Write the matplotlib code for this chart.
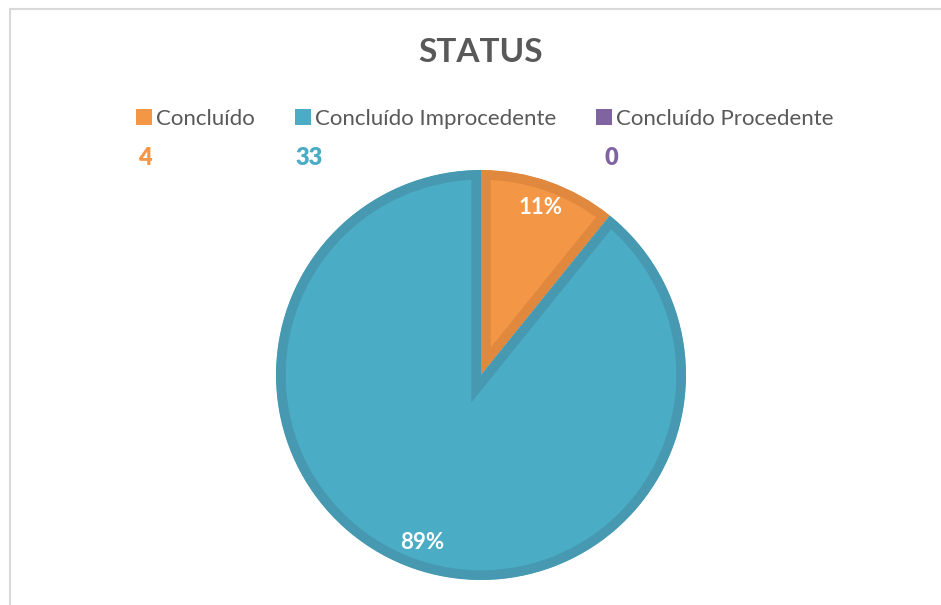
import matplotlib
matplotlib.use('Agg')
import matplotlib.pyplot as plt
from matplotlib.patches import Rectangle, Patch

# Data
categories = ['Concluído', 'Concluído Improcedente', 'Concluído Procedente']
counts = [4, 33, 0]
title = 'STATUS'

# Styles
fills = ['#F39646', '#4BACC6', '#8064A2']
edges = ['#E0883E', '#4699B1', '#735A92']
count_colors = ['#F79646', '#4BACC6', '#8064A2']
text_gray = '#595959'
font = ['Lato', 'DejaVu Sans']

plt.rcParams['font.family'] = font

W, H = 941, 605
fig = plt.figure(figsize=(W / 100, H / 100), dpi=100)
ax = fig.add_axes([0, 0, 1, 1])
ax.set_xlim(0, W)
ax.set_ylim(0, H)
ax.set_aspect('equal')
ax.axis('off')

# chart frame (cut off at right and bottom)
ax.add_patch(Rectangle((10, -20), W + 20, H - 9 + 20, fill=False,
                       edgecolor='#D9D9D9', linewidth=1.5))


def pct(p):
    return '' if p < 0.5 else '%.0f%%' % p


wedges, texts, autotexts = ax.pie(
    counts, colors=fills, startangle=90, counterclock=False,
    center=(481, H - 375), radius=205, autopct=pct, pctdistance=0.865,
    wedgeprops=dict(linewidth=0),
    textprops=dict(color='white', fontsize=16, fontweight='bold'))

# inner darker border for each wedge: wide stroke clipped to the wedge
for w, ec in zip(wedges, edges):
    w.set_edgecolor(ec)
    w.set_linewidth(14)
    w.set_clip_path(w)
    w.set_clip_on(True)

ax.set_xlim(0, W)
ax.set_ylim(0, H)

ax.text(481, H - 53, title, ha='center', va='center', fontsize=24,
        fontweight='bold', color=text_gray)

handles = [Patch(facecolor=c, edgecolor='none') for c in fills]
leg = ax.legend(handles, categories, ncol=3, loc='center',
                bbox_to_anchor=(485 / W, 1 - 119 / H), frameon=False,
                fontsize=16, handlelength=0.7, handleheight=0.7,
                handletextpad=0.2, columnspacing=1.8, labelcolor=text_gray)

count_x = [138, 295, 605]
for x, n, c in zip(count_x, counts, count_colors):
    ax.text(x, H - 158, str(n), ha='left', va='center', fontsize=17,
            fontweight='heavy', color=c)

fig.savefig('out.png', dpi=100)
